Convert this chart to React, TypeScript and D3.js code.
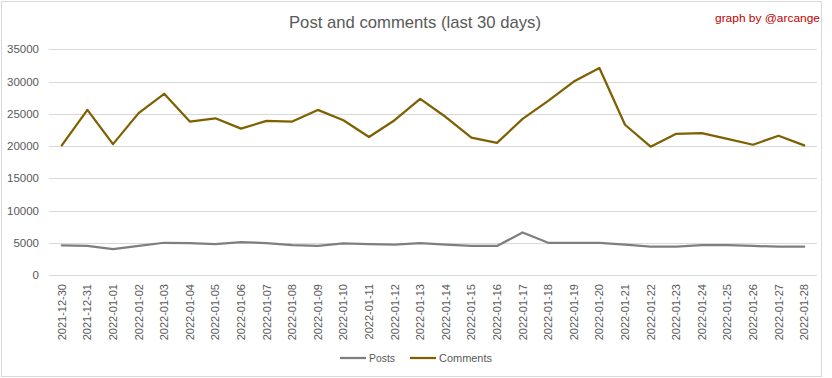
import React, { useEffect, useRef } from "react";
import * as d3 from "d3";

const dates = [
  "2021-12-30", "2021-12-31", "2022-01-01", "2022-01-02", "2022-01-03", "2022-01-04",
  "2022-01-05", "2022-01-06", "2022-01-07", "2022-01-08", "2022-01-09", "2022-01-10",
  "2022-01-11", "2022-01-12", "2022-01-13", "2022-01-14", "2022-01-15", "2022-01-16",
  "2022-01-17", "2022-01-18", "2022-01-19", "2022-01-20", "2022-01-21", "2022-01-22",
  "2022-01-23", "2022-01-24", "2022-01-25", "2022-01-26", "2022-01-27", "2022-01-28",
];
const posts = [
  4600, 4500, 4000, 4500, 5000, 4950, 4800, 5100, 4950, 4650, 4500, 4900, 4800, 4700, 4950,
  4700, 4500, 4500, 6600, 5000, 5000, 5000, 4700, 4400, 4400, 4650, 4650, 4500, 4400, 4400,
];
const comments = [
  20100, 25600, 20300, 25100, 28100, 23800, 24300, 22700, 23900, 23800, 25600, 24000, 21400,
  24000, 27300, 24500, 21300, 20500, 24200, 27000, 30000, 32100, 23300, 19900, 21900, 22000,
  21100, 20200, 21600, 20100,
];
const yTicks = [0, 5000, 10000, 15000, 20000, 25000, 30000, 35000];
const seriesNames = ["Posts", "Comments"];
const seriesColors = ["#7f7f7f", "#7f6000"];

const W = 832;
const H = 378;

export default function App() {
  const ref = useRef<SVGSVGElement>(null);
  useEffect(() => {
    const svg = d3.select(ref.current);
    svg.selectAll("*").remove();
    const font = "Liberation Sans, Arial, sans-serif";

    svg.append("rect").attr("x", 0).attr("y", 0).attr("width", W).attr("height", H).attr("fill", "#fff");
    svg.append("rect").attr("x", 1.5).attr("y", 1.5).attr("width", 820).attr("height", 375)
      .attr("fill", "none").attr("stroke", "#d9d9d9").attr("stroke-width", 1);

    const x = d3.scaleBand<string>().domain(dates).range([49, 817]);
    const y = d3.scaleLinear().domain([0, 35000]).range([275, 49.3]);

    // grid
    svg.append("g").selectAll("line").data(yTicks).join("line")
      .attr("x1", 49).attr("x2", 817)
      .attr("y1", (d) => Math.round(y(d)) + 0.5).attr("y2", (d) => Math.round(y(d)) + 0.5)
      .attr("stroke", "#d9d9d9").attr("stroke-width", 1);

    // y labels
    svg.append("g").selectAll("text").data(yTicks).join("text")
      .attr("x", 39).attr("y", (d) => y(d)).attr("dy", "0.35em")
      .attr("text-anchor", "end").attr("font-family", font).attr("font-size", 11.5)
      .attr("fill", "#595959").text((d) => String(d));

    // x labels
    svg.append("g").selectAll("text").data(dates).join("text")
      .attr("transform", (d) => `translate(${(x(d) ?? 0) + x.bandwidth() / 2 + 4},284) rotate(-90)`)
      .attr("text-anchor", "end").attr("font-family", font).attr("font-size", 11)
      .attr("fill", "#595959").text((d) => d);

    const seriesData = [posts, comments];
    const line = d3.line<number>()
      .x((_, i) => (x(dates[i]) ?? 0) + x.bandwidth() / 2)
      .y((d) => y(d));
    seriesData.forEach((s, k) => {
      svg.append("path").attr("d", line(s) ?? "").attr("fill", "none")
        .attr("stroke", seriesColors[k]).attr("stroke-width", 2.25)
        .attr("stroke-linejoin", "round").attr("stroke-linecap", "round");
    });

    // title
    svg.append("text").attr("x", 415).attr("y", 28).attr("text-anchor", "middle")
      .attr("font-family", font).attr("font-size", 17).attr("fill", "#595959")
      .attr("textLength", 252).attr("lengthAdjust", "spacingAndGlyphs")
      .text("Post and comments (last 30 days)");

    svg.append("text").attr("x", 820).attr("y", 22).attr("text-anchor", "end")
      .attr("font-family", font).attr("font-size", 11.5).attr("fill", "#c00000")
      .attr("textLength", 105).attr("lengthAdjust", "spacingAndGlyphs")
      .text("graph by @arcange");

    // legend
    const legX = [340, 410];
    const legTextW = [26, 53];
    seriesNames.forEach((n, k) => {
      svg.append("line").attr("x1", legX[k]).attr("x2", legX[k] + 26)
        .attr("y1", 358).attr("y2", 358).attr("stroke", seriesColors[k]).attr("stroke-width", 2.25);
      svg.append("text").attr("x", legX[k] + 29).attr("y", 358).attr("dy", "0.35em")
        .attr("font-family", font).attr("font-size", 11).attr("fill", "#595959")
        .attr("textLength", legTextW[k]).attr("lengthAdjust", "spacingAndGlyphs")
        .text(n);
    });
  }, []);
  return (
    <svg ref={ref} width={W} height={H} style={{ position: "absolute", left: 0, top: 0 }} />
  );
}
